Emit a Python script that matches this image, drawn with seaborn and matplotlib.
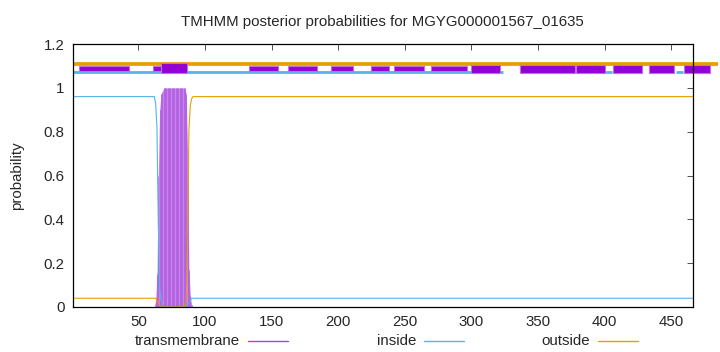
import numpy as np
import pandas as pd
import matplotlib
matplotlib.use("Agg")
import matplotlib.pyplot as plt
from matplotlib.patches import Rectangle
from matplotlib.lines import Line2D
import seaborn as sns

# ---------------- data ----------------
seq_len = 466
inside_prob = ([0.96] * 62 + [0.93, 0.82, 0.38, 0.09, 0.03, 0.02] + [0.0] * 17
               + [0.0, 0.01, 0.02, 0.03, 0.04] + [0.04] * 376)
outside_prob = ([0.04] * 62 + [0.04, 0.03, 0.02, 0.01, 0.0, 0.0] + [0.0] * 17
                + [0.03, 0.29, 0.81, 0.92, 0.95] + [0.96] * 376)
tm_prob = ([0.0] * 62 + [0.03, 0.15, 0.6, 0.9, 0.97, 0.98] + [1.0] * 17
           + [0.97, 0.7, 0.17, 0.05, 0.01] + [0.0] * 376)

# topology strip at the top (segment start, end, style)
box_start = [5.8, 61.2, 67.2, 133.2, 162.4, 194.6, 224.6, 241.9, 269.6,
             299.6, 336.3, 378.3, 406.0, 433.0, 459.2]
box_end = [43.2, 67.2, 86.7, 155.0, 184.2, 211.1, 238.1, 264.4, 296.6,
           321.3, 377.5, 400.0, 427.8, 451.7, 478.7]
box_kind = ["thin", "thin", "thick", "thin", "thin", "thin", "thin", "thin", "thin",
            "low", "low", "low", "low", "low", "low"]
outside_bar = [(1, 484.8)]
inside_bar = [(1, 324.0), (400.0, 405.5), (453.5, 458.8)]

x_ticks = [50, 100, 150, 200, 250, 300, 350, 400, 450]
y_ticks = [0, 0.2, 0.4, 0.6, 0.8, 1.0, 1.2]
y_labels = ["0", "0.2", "0.4", "0.6", "0.8", "1", "1.2"]

legend_labels = ["transmembrane", "inside", "outside"]
title = "TMHMM posterior probabilities for MGYG000001567_01635"

# ---------------- style ----------------
sns.set_theme(style="white")
plt.rcParams["font.family"] = ["Liberation Sans", "DejaVu Sans"]
FS = 10.8
plt.rcParams["font.size"] = FS

C_TM = "#9400d3"
C_TM_FILL = "#c983ea"
C_TM_LINE = "#ac58de"
C_IN = "#56b4e9"
C_OUT = "#e69f00"

W, H = 720, 352
fig = plt.figure(figsize=(7.2, 3.52), dpi=100)
ax = fig.add_axes([73 / W, 45 / H, (692.7 - 73) / W, (307 - 44) / H])

residues = np.arange(1, seq_len + 1)
df = pd.DataFrame({"residue": residues, "inside": inside_prob,
                   "outside": outside_prob, "tm": tm_prob})

# transmembrane: filled area + impulses
ax.fill_between(df["residue"], 0, df["tm"], color=C_TM_FILL, lw=0, zorder=2)
sel = df[df["tm"] > 0]
ax.vlines(sel["residue"], 0, sel["tm"], color=C_TM_LINE, lw=0.5, zorder=3)

sns.lineplot(data=df, x="residue", y="inside", color=C_IN, lw=0.8, ax=ax, zorder=4)
sns.lineplot(data=df, x="residue", y="outside", color=C_OUT, lw=0.8, ax=ax, zorder=4)

# top topology strip
for a, b in outside_bar:
    ax.plot([a, b], [1.11, 1.11], color=C_OUT, lw=2.7, solid_capstyle="butt",
            clip_on=False, zorder=5)
for a, b in inside_bar:
    ax.plot([a, b], [1.0705, 1.0705], color=C_IN, lw=2.0, solid_capstyle="butt",
            clip_on=False, zorder=5)
kind_y = {"thin": (1.077, 1.101), "low": (1.066, 1.104), "thick": (1.066, 1.115)}
for a, b, k in zip(box_start, box_end, box_kind):
    y0, y1 = kind_y[k]
    ax.add_patch(Rectangle((a, y0), b - a, y1 - y0, facecolor=C_TM,
                           edgecolor="#c070e0", lw=0.8, clip_on=False, zorder=6))

ax.set_xlim(1, seq_len)
ax.set_ylim(0, 1.2)
ax.set_xticks(x_ticks)
ax.set_yticks(y_ticks)
ax.set_yticklabels(y_labels)
ax.set_xlabel("")
ax.set_ylabel("probability", fontsize=FS, labelpad=14)
ax.set_title(title, fontsize=FS, pad=13)
ax.tick_params(direction="in", length=4, width=0.6, color="#333333",
               top=True, right=True, labelsize=FS, pad=6)
for s in ax.spines.values():
    s.set_color("black")
    s.set_linewidth(0.9)
    s.set_zorder(7)

# gnuplot-style key: right-aligned text followed by a line sample, fixed columns
key_colors = ["#b040e0", C_IN, C_OUT]
key_text_right = [240, 416, 590]
ky = 1 - 341 / H
for lab, col, xr in zip(legend_labels, key_colors, key_text_right):
    fig.text(xr / W, ky, lab, ha="right", va="center", fontsize=FS)
    fig.add_artist(Line2D([(xr + 8) / W, (xr + 48) / W], [ky, ky], color=col,
                          lw=1.0, transform=fig.transFigure))

fig.savefig("out.png", dpi=100)
